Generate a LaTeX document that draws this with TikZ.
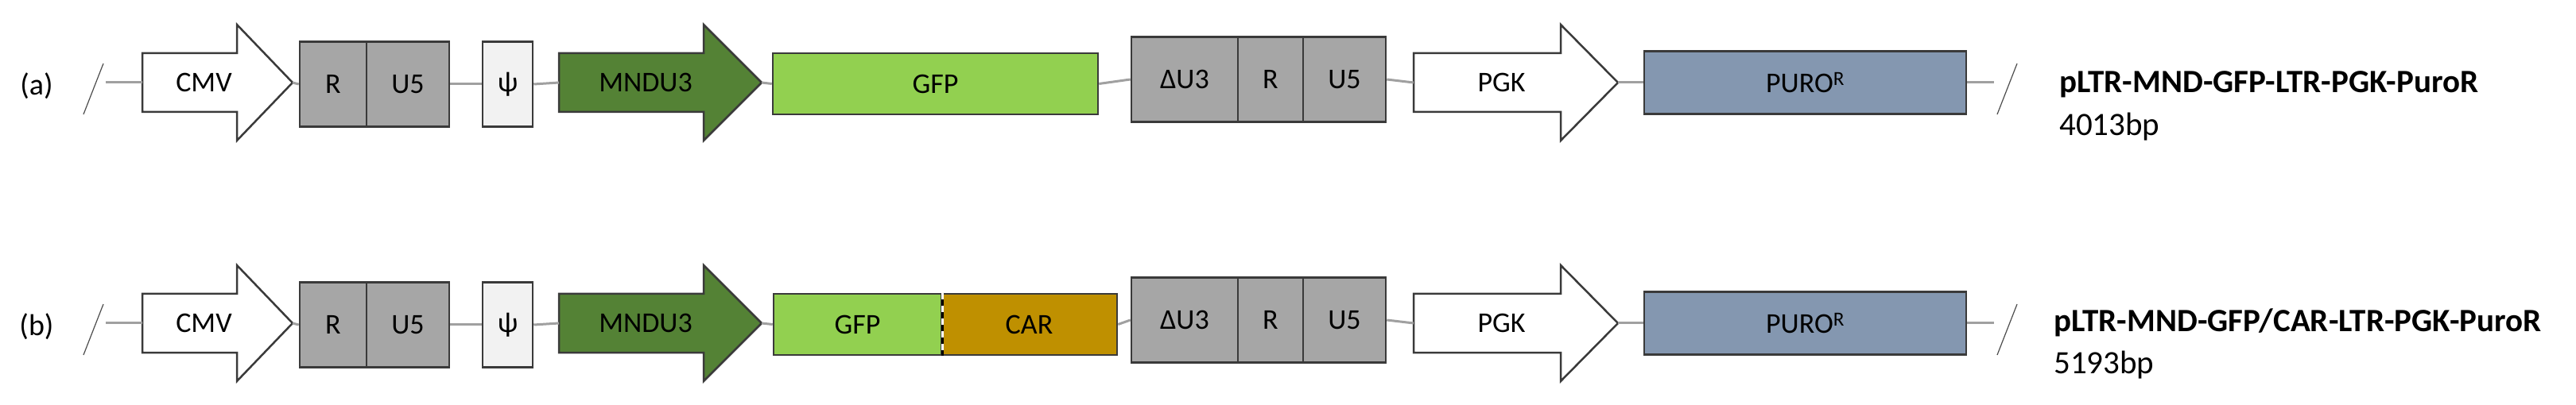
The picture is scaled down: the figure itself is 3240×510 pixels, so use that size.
\documentclass[tikz,border=0pt]{standalone}
\usepackage{fontspec}
\setmainfont{Carlito}
\definecolor{edge}{HTML}{3A3A3A}
\definecolor{ltrg}{HTML}{A6A6A6}
\definecolor{psig}{HTML}{F2F2F2}
\definecolor{mnd}{HTML}{548235}
\definecolor{gfp}{HTML}{92D050}
\definecolor{car}{HTML}{BF9000}
\definecolor{puro}{HTML}{8497B0}
\definecolor{bb}{HTML}{A0A0A0}
\newcommand\genearrow[7]{% name, xtail, xneck, xtip, yc, fill, text
  \coordinate (#1-tail) at (#2,#5);
  \coordinate (#1-tip) at (#4,#5);
  \filldraw[fill=#6, draw=edge, line width=2.5pt, line join=miter]
    (#2,{#5-37}) -- (#3,{#5-37}) -- (#3,{#5-73}) -- (#4,#5) -- (#3,{#5+73}) -- (#3,{#5+37}) -- (#2,{#5+37}) -- cycle;
  \node[lbl] (#1) at ({(#2+#3)/2+18},#5) {#7};}
\newcommand\myrow[3]{% prefix, yc, letter
  \node[lbl, font=\fontsize{38}{40}\selectfont] (#1lab) at (46,{#2+4}) {(#3)};
  \draw[slash] (105,{#2+40}) -- (130,{#2-24});
  \coordinate (#1l) at (133,#2);
  \genearrow{#1cmv}{179}{298}{368}{#2}{white}{CMV}
  \node[box, fill=ltrg, minimum width=84pt] (#1r1) at (419,{#2+2}) {R};
  \node[box, fill=ltrg, minimum width=104pt] (#1u1) at (513,{#2+2}) {U5};
  \node[box, fill=psig, minimum width=63pt] (#1psi) at (638.5,{#2+2}) {ψ};
  \genearrow{#1mnd}{703}{885}{958}{#2}{mnd}{MNDU3}
  \node[box, fill=ltrg, minimum width=134pt] (#1du) at (1490,{#2-4}) {ΔU3};
  \node[box, fill=ltrg, minimum width=82pt] (#1r2) at (1598,{#2-4}) {R};
  \node[box, fill=ltrg, minimum width=104pt] (#1u2) at (1691,{#2-4}) {U5};
  \genearrow{#1pgk}{1778}{1963}{2035}{#2}{white}{PGK}
  \node[box, fill=puro, minimum width=405pt, minimum height=79pt] (#1puro) at (2270.5,{#2+0}) {PURO\textsuperscript{R}};
  \coordinate (#1r) at (2508,#2);
  \draw[slash] (2512,{#2+40}) -- (2537,{#2-24});
  \draw[bbl] (#1l) -- (#1cmv-tail);
  \draw[bbl] (#1cmv-tip) -- (#1r1.west);
  \draw[bbl] (#1u1.east) -- (#1psi.west);
  \draw[bbl] (#1psi.east) -- (#1mnd-tail);
  \draw[bbl] (#1u2.east) -- (#1pgk-tail);
  \draw[bbl] (#1pgk-tip) -- (#1puro.west);
  \draw[bbl] (#1puro.east) -- (#1r);
}
\begin{document}
\begin{tikzpicture}[x=1pt,y=-1pt,
  lbl/.style={inner sep=0pt, font=\fontsize{36}{38}\selectfont},
  box/.style={draw=edge, line width=2.5pt, minimum height=107pt, inner sep=0pt, font=\fontsize{36}{38}\selectfont},
  slash/.style={draw=black!70, line width=1.2pt},
  bbl/.style={draw=bb, line width=3pt},
  title/.style={anchor=west, inner sep=0pt, font=\fontsize{41}{43}\selectfont\bfseries},
  size/.style={anchor=west, inner sep=0pt, font=\fontsize{41}{43}\selectfont}]
\useasboundingbox (0,0) rectangle (3240,510);
\myrow{a}{104}{a}
\node[box, fill=gfp, minimum width=409pt, minimum height=77pt] (agfp) at (1176.5,{104+1.5}) {GFP};
\draw[bbl] (amnd-tip) -- (agfp.west);
\draw[bbl] (agfp.east) -- (adu.west);
\node[title] (at) at (2590,106) {pLTR-MND-GFP-LTR-PGK-PuroR};
\node[size] (as) at (2590,160) {4013bp};

\myrow{b}{407}{b}
\node[box, fill=gfp, minimum width=211pt, minimum height=77pt] (bgfp) at (1078.5,408.5) {GFP};
\node[box, fill=car, minimum width=221pt, minimum height=77pt] (bcar) at (1294.5,408.5) {CAR};
\draw[black, line width=2.5pt] (bgfp.north east) -- (bgfp.south east);
\draw[white, line width=2.5pt, dash pattern=on 8pt off 8pt] (bgfp.north east) -- (bgfp.south east);
\draw[bbl] (bmnd-tip) -- (bgfp.west);
\draw[bbl] (bcar.east) -- (bdu.west);
\node[title] (bt) at (2583,406) {pLTR-MND-GFP/CAR-LTR-PGK-PuroR};
\node[size] (bs) at (2583,460) {5193bp};
\end{tikzpicture}
\end{document}
